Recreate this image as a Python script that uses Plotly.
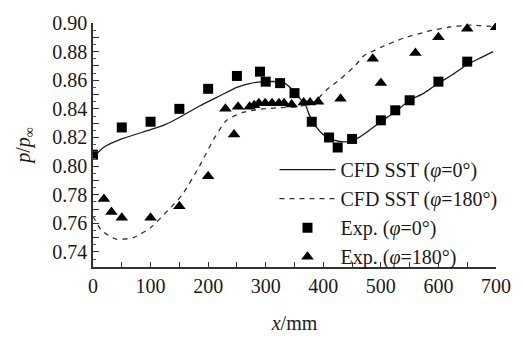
import plotly.graph_objects as go

# CFD SST (phi=0) - solid line
cfd0_x = [0, 20, 50, 100, 125, 150, 185, 215, 250, 270, 295, 330, 345, 362, 370, 375, 385, 400, 420, 440, 460, 480, 500, 525, 550, 575, 600, 625, 650, 675, 695]
cfd0_y = [0.806, 0.8135, 0.819, 0.8255, 0.829, 0.834, 0.842, 0.848, 0.855, 0.8575, 0.859, 0.8585, 0.854, 0.846, 0.842, 0.8365, 0.829, 0.822, 0.818, 0.817, 0.8195, 0.825, 0.831, 0.838, 0.846, 0.851, 0.858, 0.864, 0.871, 0.876, 0.880]

# CFD SST (phi=180) - dashed line
cfd180_x = [0, 15, 40, 70, 100, 130, 155, 185, 210, 232, 260, 290, 320, 360, 385, 405, 430, 455, 470, 500, 540, 580, 620, 655, 695]
cfd180_y = [0.765, 0.755, 0.749, 0.750, 0.757, 0.769, 0.780, 0.800, 0.819, 0.832, 0.8375, 0.8397, 0.8407, 0.8418, 0.845, 0.853, 0.861, 0.870, 0.877, 0.883, 0.8895, 0.894, 0.8972, 0.8985, 0.8975]

# Exp (phi=0) - squares
exp0_x = [0, 50, 100, 150, 200, 250, 290, 300, 325, 350, 380, 410, 425, 450, 500, 525, 550, 600, 650]
exp0_y = [0.808, 0.827, 0.831, 0.840, 0.854, 0.863, 0.866, 0.859, 0.858, 0.851, 0.831, 0.820, 0.813, 0.819, 0.832, 0.839, 0.846, 0.859, 0.873]

# Exp (phi=180) - triangles
exp180_x = [19, 32, 50, 100, 150, 200, 230, 245, 252, 272, 280, 288, 299, 311, 323, 332, 345, 366, 377, 391, 430, 486, 500, 560, 600, 650, 700]
exp180_y = [0.777, 0.768, 0.764, 0.764, 0.772, 0.793, 0.840, 0.822, 0.8415, 0.8415, 0.8425, 0.844, 0.844, 0.844, 0.844, 0.844, 0.843, 0.8445, 0.8445, 0.8450, 0.847, 0.875, 0.858, 0.879, 0.890, 0.896, 0.897]

x_tickvals = list(range(0, 701, 50))
x_ticktext = [str(v) if v % 100 == 0 else "" for v in x_tickvals]
y_tickvals = [round(0.74 + 0.01 * i, 2) for i in range(17)]
y_ticktext = [f"{v:.2f}" if round(v * 100) % 2 == 0 else "" for v in y_tickvals]

FONT = "Liberation Serif, Times New Roman, serif"
INK = "#1a1a1a"

fig = go.Figure()
fig.add_trace(go.Scatter(x=cfd0_x, y=cfd0_y, mode="lines", name="CFD SST (<i>φ</i>=0°)",
                         line=dict(color=INK, width=1.3, shape="spline", smoothing=0.6)))
fig.add_trace(go.Scatter(x=cfd180_x, y=cfd180_y, mode="lines", name="CFD SST (<i>φ</i>=180°)",
                         line=dict(color="#333333", width=1.3, dash="5px,5px", shape="spline", smoothing=0.6)))
fig.add_trace(go.Scatter(x=exp0_x, y=exp0_y, mode="markers", name="Exp. (<i>φ</i>=0°)",
                         marker=dict(symbol="square", size=10, color="black")))
fig.add_trace(go.Scatter(x=exp180_x, y=exp180_y, mode="markers", name="Exp. (<i>φ</i>=180°)",
                         marker=dict(symbol="triangle-up", size=11, color="black")))

fig.update_layout(
    width=523, height=343,
    margin=dict(l=93, r=17, t=16, b=66),
    paper_bgcolor="white", plot_bgcolor="white",
    font=dict(family=FONT, size=20, color=INK),
    showlegend=True,
    legend=dict(x=(279 - 93) / 413, y=1 - (152 - 16) / 261, xanchor="left", yanchor="top",
                bgcolor="rgba(0,0,0,0)", borderwidth=0, itemwidth=56,
                font=dict(family=FONT, size=20, color=INK), tracegroupgap=0),
)
fig.update_xaxes(range=[0, 700], showgrid=False, zeroline=False, showline=True, linecolor="#333", linewidth=1.5,
                 ticks="inside", ticklen=5, tickwidth=1.2, tickcolor="#333",
                 tickvals=x_tickvals, ticktext=x_ticktext,
                 title=dict(text="<i>x</i>/mm", font=dict(family=FONT, size=20), standoff=20))
fig.update_yaxes(range=[0.7295, 0.90], showgrid=False, zeroline=False, showline=True, linecolor="#333", linewidth=1.5,
                 ticks="inside", ticklen=6, tickwidth=1.2, tickcolor="#333",
                 tickvals=y_tickvals, ticktext=y_ticktext,
                 minor=dict(ticks="inside", ticklen=3, tickwidth=1, tickcolor="#555", dtick=0.005, tick0=0.74),
                 title=dict(text="<i>p</i>/<i>p</i><sub>∞</sub>", font=dict(family=FONT, size=20), standoff=16))

fig.write_html("out.html")
